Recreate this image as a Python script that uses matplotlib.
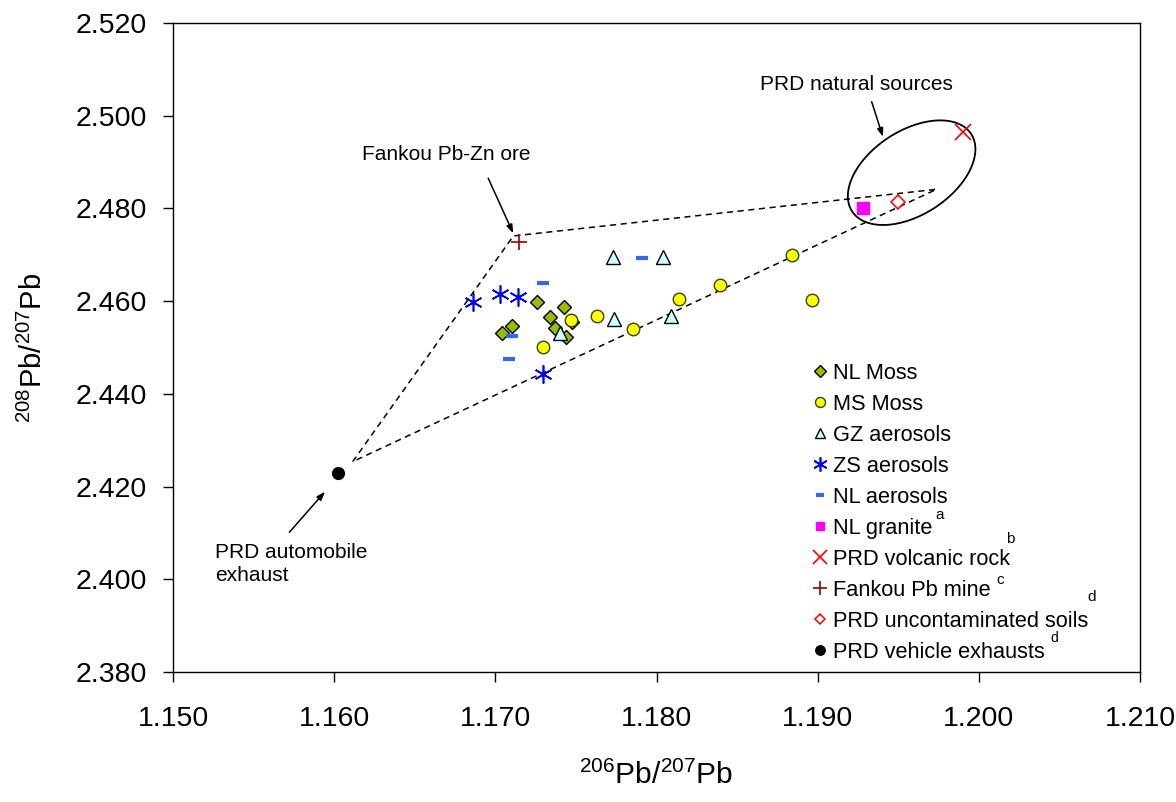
import matplotlib
matplotlib.use("Agg")
import matplotlib.pyplot as plt
import matplotlib.transforms as mtransforms
from matplotlib.patches import Ellipse

plt.rcParams['font.family'] = ['Liberation Sans', 'DejaVu Sans']
plt.rcParams['mathtext.fontset'] = 'custom'
plt.rcParams['mathtext.rm'] = 'Liberation Sans'
plt.rcParams['mathtext.it'] = 'Liberation Sans:italic'
plt.rcParams['mathtext.bf'] = 'Liberation Sans:bold'
plt.rcParams['mathtext.default'] = 'regular'

# ---------------- data ----------------
nl_moss_x = [1.17257, 1.17428, 1.17105, 1.17043, 1.17339, 1.17372, 1.17438, 1.17478]
nl_moss_y = [2.45989, 2.45880, 2.45464, 2.45307, 2.45665, 2.45414, 2.45220, 2.45560]

ms_moss_x = [1.17468, 1.17633, 1.17294, 1.17856, 1.18141, 1.18396, 1.18839, 1.18963]
ms_moss_y = [2.45594, 2.45680, 2.45018, 2.45393, 2.46040, 2.46349, 2.46989, 2.46018]

gz_x = [1.17732, 1.18042, 1.17738, 1.18088, 1.17401]
gz_y = [2.46959, 2.46959, 2.45609, 2.45680, 2.45307]

zs_x = [1.16863, 1.17029, 1.17142, 1.17298]
zs_y = [2.45989, 2.46155, 2.46096, 2.44429]

nl_aer_x = [1.17294, 1.17102, 1.17087, 1.17908]
nl_aer_y = [2.46385, 2.45255, 2.44746, 2.46925]

granite_x = [1.19283]
granite_y = [2.48003]

volcanic_x = [1.19903]
volcanic_y = [2.49655]

fankou_x = [1.17149]
fankou_y = [2.47283]

soils_x = [1.19496]
soils_y = [2.48145]

exhaust_x = [1.16026]
exhaust_y = [2.42300]

# mixing triangle (dashed) vertices: exhaust end, Fankou end, natural end
tri_x = [1.16115, 1.17112, 1.19738, 1.16115]
tri_y = [2.42538, 2.47406, 2.48413, 2.42538]

# natural sources ellipse centre (data)
ell_cx, ell_cy = 1.19583, 2.48771

x_ticks = [1.150, 1.160, 1.170, 1.180, 1.190, 1.200, 1.210]
y_ticks = [2.380, 2.400, 2.420, 2.440, 2.460, 2.480, 2.500, 2.520]

# ---------------- figure ----------------
fig = plt.figure(figsize=(11.76, 8.02), dpi=100)
ax = fig.add_axes([173/1176, (802-672)/802, 967/1176, 649/802])

ax.plot(tri_x, tri_y, color='black', lw=1.1, ls=(0, (4, 3)), zorder=1)

ax.plot(nl_moss_x, nl_moss_y, ls='none', marker='D', ms=7.5, mfc='#99BB00', mec='black', mew=1.0, label='NL Moss', zorder=3)
ax.plot(ms_moss_x, ms_moss_y, ls='none', marker='o', ms=9, mfc='#FFFF00', mec='#2E4A00', mew=1.0, label='MS Moss', zorder=3)
ax.plot(gz_x, gz_y, ls='none', marker='^', ms=9.5, mfc='#CCFFFF', mec='black', mew=1.0, label='GZ aerosols', zorder=3)
ax.plot(zs_x, zs_y, ls='none', marker=(6, 2, 0), ms=13, mec='#0000FF', mfc='#0000FF', mew=1.2, label='ZS aerosols', zorder=3)
ax.plot(nl_aer_x, nl_aer_y, ls='none', marker='_', ms=8, mec='#3366FF', mew=3, label='NL aerosols', zorder=3)
ax.plot(granite_x, granite_y, ls='none', marker='s', ms=8, mfc='#FF00FF', mec='#FF00FF', label='NL granite', zorder=3)
ax.plot(volcanic_x, volcanic_y, ls='none', marker='x', ms=12, mec='#FF0000', mew=1.2, label='PRD volcanic rock', zorder=3)
ax.plot(fankou_x, fankou_y, ls='none', marker='+', ms=12, mec='#990000', mew=1.2, label='Fankou Pb mine', zorder=3)
ax.plot(soils_x, soils_y, ls='none', marker='D', ms=7, mfc='white', mec='#FF0000', mew=1.1, label='PRD uncontaminated soils', zorder=3)
ax.plot(exhaust_x, exhaust_y, ls='none', marker='o', ms=8.5, mfc='black', mec='black', label='PRD vehicle exhausts', zorder=3)

# ellipse around natural sources (size in inches)
ell = Ellipse((0, 0), width=1.42, height=0.84, angle=33, fill=False, ec='black', lw=1.3,
              transform=fig.dpi_scale_trans + mtransforms.ScaledTranslation(ell_cx, ell_cy, ax.transData))
ax.add_patch(ell)

arrow = dict(arrowstyle='-|>,head_length=0.5,head_width=0.18', color='black', lw=1.1, shrinkA=0, shrinkB=0)
ax.annotate('', xy=(1.19405, 2.49545), xytext=(1.19335, 2.50302), arrowprops=arrow)
ax.text(1.19238, 2.50663, 'PRD natural sources', fontsize=15, ha='center', va='center')
ax.annotate('', xy=(1.17111, 2.47464), xytext=(1.16956, 2.48650), arrowprops=arrow)
ax.text(1.16694, 2.49153, 'Fankou Pb-Zn ore', fontsize=15, ha='center', va='center')
ax.annotate('', xy=(1.15943, 2.41890), xytext=(1.15722, 2.41014), arrowprops=arrow)
ax.text(1.15261, 2.40330, 'PRD automobile\nexhaust', fontsize=15, ha='left', va='center', linespacing=1.3)

ax.set_xlim(1.150, 1.210)
ax.set_ylim(2.380, 2.520)
ax.set_xticks(x_ticks)
ax.set_yticks(y_ticks)
ax.set_xticklabels([f'{v:.3f}' for v in x_ticks])
ax.set_yticklabels([f'{v:.3f}' for v in y_ticks])
ax.tick_params(direction='out', length=7.5, width=1, labelsize=20.5)
ax.tick_params(axis='y', pad=11)
ax.tick_params(axis='x', pad=17)
for s in ax.spines.values():
    s.set_linewidth(1.0)

ax.set_xlabel(r'$^{206}$Pb/$^{207}$Pb', fontsize=21.5, labelpad=21)
ax.set_ylabel(r'$^{208}$Pb/$^{207}$Pb', fontsize=21, labelpad=20)

leg = ax.legend(loc='upper left', bbox_to_anchor=(0.6622, 0.4766), frameon=False, fontsize=15.7,
                handlelength=0.6, handletextpad=0.3, labelspacing=0.46, borderpad=0,
                borderaxespad=0, markerscale=0.8, numpoints=1)

for fx, fy, s, fs in [(0.793, 0.2419, 'a', 11), (0.8663, 0.2045, 'b', 11), (0.8552, 0.1418, 'c', 11),
                      (0.9504, 0.1160, 'd', 11), (0.9110, 0.0520, 'd', 10)]:
    ax.text(fx, fy, s, transform=ax.transAxes, fontsize=fs, ha='center', va='center')

fig.savefig('out.png', dpi=100)
